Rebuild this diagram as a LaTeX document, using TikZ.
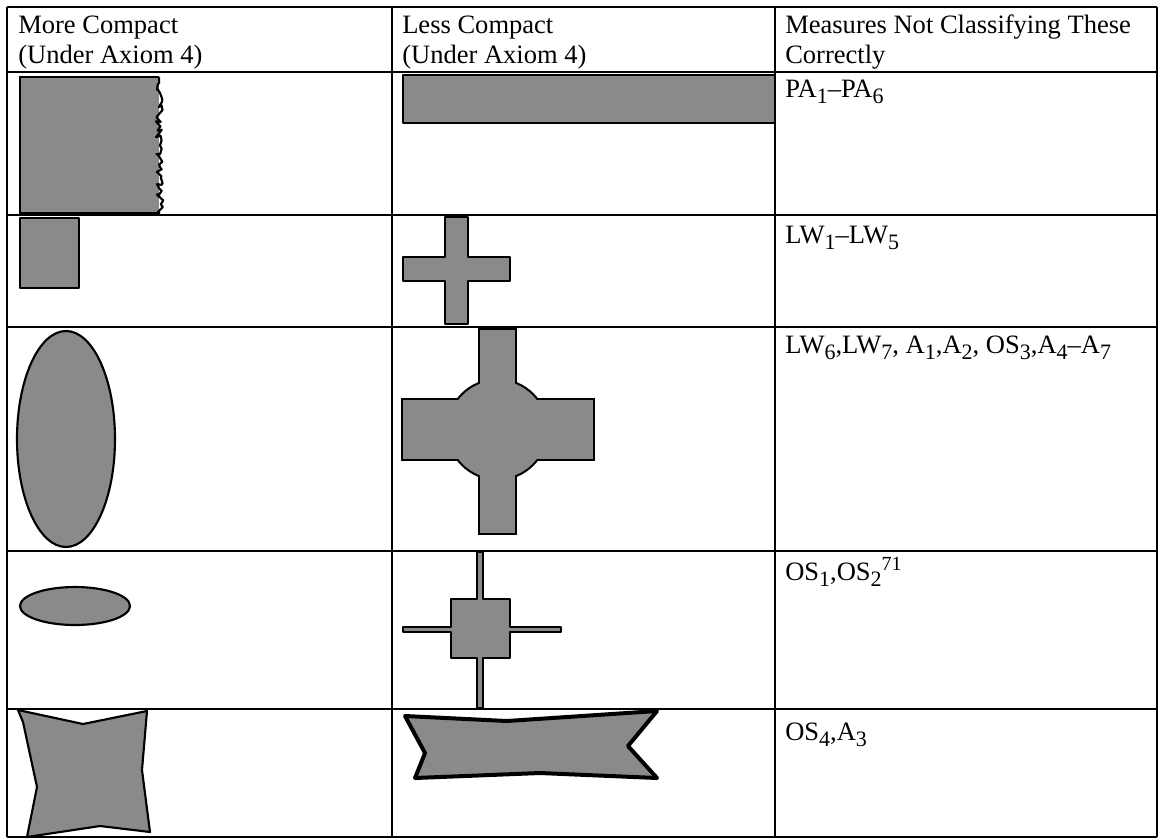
\documentclass[tikz,border=0pt]{standalone}
\usepackage{fontspec}
\setmainfont{Liberation Serif}
\usetikzlibrary{decorations.pathmorphing}
\definecolor{fillgray}{RGB}{138,138,138}
\newcommand\dn[1]{\raisebox{-4.5pt}{\fontsize{16.5}{16.5}\selectfont #1}}
\newcommand\up[1]{\raisebox{7pt}{\fontsize{15}{15}\selectfont #1}}
\begin{document}
\begin{tikzpicture}[x=0.75pt,y=-0.75pt,
  grid/.style={line width=1.6pt},
  txt/.style={inner sep=0pt, anchor=base west, font=\fontsize{19.9}{22.5}\selectfont},
  shp/.style={fill=fillgray, draw=black, line width=1.6pt, line join=round},
  halo/.style={draw=black, line width=3.2pt, fill=fillgray},
  core/.style={fill=fillgray, draw=none}]
\useasboundingbox (0,0) rectangle (1159,839);
\fill[white] (0,0) rectangle (1159,839);
% grid
\foreach \yy in {7,72,215,327,551,709,837}
  \draw[grid] (7,\yy) -- (1157,\yy);
\foreach \xx in {7,392,775,1157}
  \draw[grid] (\xx,7) -- (\xx,837);
% header texts
\node[txt] (h1a) at (18,33) {More Compact};
\node[txt] (h1b) at (18,63) {(Under Axiom 4)};
\node[txt] (h2a) at (402,33) {Less Compact};
\node[txt] (h2b) at (402,63) {(Under Axiom 4)};
\node[txt] (h3a) at (785,33) {Measures Not Classifying These};
\node[txt] (h3b) at (785,63) {Correctly};
% row 1
\fill[fillgray] (20,77) -- (159,77) -- (159,213) -- (20,213) -- cycle;
\draw[line width=1.6pt] (159,77) -- (20,77) -- (20,213) -- (160,213);
\pgfmathsetseed{11}
\draw[line width=1.6pt, line join=round, decorate, decoration={random steps, segment length=2.2pt, amplitude=3pt}] (159,77) -- (160,213);
\draw[shp] (403,75) rectangle (775,123);
\draw[line width=2.2pt] (403,75) -- (775,75);
\node[txt] (m1) at (785,97) {PA\dn{1}–PA\dn{6}};
% row 2
\draw[shp] (20,218) rectangle (79,288);
\draw[shp] (445,217) -- (468,217) -- (468,257) -- (510,257) -- (510,281) -- (468,281)
  -- (468,324) -- (445,324) -- (445,281) -- (403,281) -- (403,257) -- (445,257) -- cycle;
\node[txt] (m2) at (785,243) {LW\dn{1}–LW\dn{5}};
% row 3
\draw[shp] (66,439) ellipse [x radius=36.75pt, y radius=81pt];
\draw[halo] (497.5,429.5) circle [radius=36.75pt];
\draw[halo] (480,330) rectangle (515,533);
\draw[halo] (403,400) rectangle (593,459);
\fill[core] (497.5,429.5) circle [radius=36.75pt];
\fill[core] (480,330) rectangle (515,533);
\fill[core] (403,400) rectangle (593,459);
\node[txt] (m3) at (785,353) {LW\dn{6},LW\dn{7}, A\dn{1},A\dn{2}, OS\dn{3},A\dn{4}–A\dn{7}};
% row 4
\draw[shp] (75,606) ellipse [x radius=41.25pt, y radius=14.25pt];
\draw[shp] (477,552) -- (483,552) -- (483,599) -- (510,599) -- (510,627) -- (561,627)
  -- (561,632) -- (510,632) -- (510,658) -- (483,658) -- (483,708) -- (477,708)
  -- (477,658) -- (451,658) -- (451,632) -- (403,632) -- (403,627) -- (451,627)
  -- (451,599) -- (477,599) -- cycle;
\node[txt] (m4) at (785,580) {OS\dn{1},OS\dn{2}\up{71}};
% row 5
\draw[shp] (18,710) -- (83,724) -- (147,711) -- (142,770) -- (150,832) -- (100,826)
  -- (27,837) -- (37,787) -- (23,722) -- cycle;
\draw[shp, line width=3pt] (405,716) -- (507,721) -- (657,711) -- (628,746) -- (657,778)
  -- (540,773) -- (415,778) -- (425,753) -- cycle;
\node[txt] (m5) at (785,740) {OS\dn{4},A\dn{3}};
\end{tikzpicture}
\end{document}
